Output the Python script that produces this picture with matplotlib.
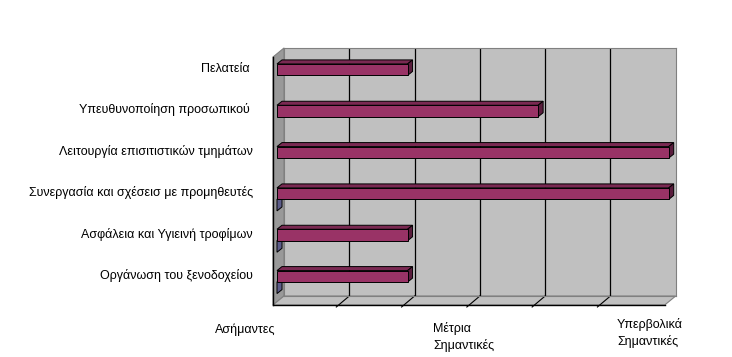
import numpy as np
import matplotlib.pyplot as plt
from matplotlib.patches import Polygon
from matplotlib.transforms import blended_transform_factory

plt.rcParams['font.family'] = ['Liberation Sans', 'DejaVu Sans']

# bottom to top, as Excel draws them
categories = ["Οργάνωση του ξενοδοχείου",
              "Ασφάλεια και Υγιεινή τροφίμων",
              "Συνεργασία και σχέσεισ με προμηθευτές",
              "Λειτουργία επισιτιστικών τμημάτων",
              "Υπευθυνοποίηση προσωπικού ",
              "Πελατεία "]
importance = [2, 2, 6, 6, 4, 2]
other = [0, 0, 0, None, None, None]     # second series, zero where present
scale_labels = ["Ασήμαντες", "Μέτρια\nΣημαντικές", "Υπερβολικά\nΣημαντικές"]
X_MAX = 6

W, H = 732, 357
fig = plt.figure(figsize=(W / 100, H / 100), dpi=100)

# back wall of the fake 3D box, in pixels
L, R, T, B = 284, 675.7, 48, 296
ax = fig.add_axes([L / W, 1 - B / H, (R - L) / W, (B - T) / H])
n = len(categories)
ax.set_xlim(0, X_MAX)
ax.set_ylim(-0.5, n - 0.5)
ax.set_xticks([])
ax.set_yticks([])
ax.set_facecolor("#c0c0c0")
for s in ax.spines.values():
    s.set_color("#808080")
    s.set_linewidth(0.8)

ux = X_MAX / (R - L)      # data units per pixel
uy = n / (B - T)


def shift(x, y, dxp, dyp):
    # dyp is screen pixels downward
    return (x + dxp * ux, y - dyp * uy)


FX, FY = -11, 9           # floor depth (back wall -> front edge)
BX, BY = -7, 1            # bar front plane relative to back wall
DX, DY = 5, -4            # bar depth
h = 11.5 * uy             # bar thickness

ybot, ytop = -0.5, n - 0.5

# side wall and floor
side = [(0, ybot), (0, ytop), shift(0, ytop, FX, FY), shift(0, ybot, FX, FY)]
ax.add_patch(Polygon(side, closed=True, fc="#999999", ec="#808080", lw=0.8,
                     clip_on=False, zorder=1))
floor = [(0, ybot), (X_MAX, ybot), shift(X_MAX, ybot, FX, FY), shift(0, ybot, FX, FY)]
ax.add_patch(Polygon(floor, closed=True, fc="#c0c0c0", ec="#808080", lw=0.8,
                     clip_on=False, zorder=1))

# gridlines on wall and floor
for v in range(1, X_MAX):
    ax.plot([v, v], [ybot, ytop], color="black", lw=0.9, zorder=2)
    p = shift(v, ybot, FX - 2, FY + 2)
    ax.plot([v, p[0]], [ybot, p[1]], color="black", lw=0.8, zorder=2, clip_on=False)

# axis lines
f0 = shift(0, ybot, FX, FY)
f1 = shift(X_MAX, ybot, FX, FY)
ft = shift(0, ytop, FX, FY)
ax.plot([f0[0], f1[0]], [f0[1], f1[1]], color="black", lw=1, clip_on=False, zorder=2)
ax.plot([f0[0], ft[0]], [f0[1], ft[1]], color="black", lw=1, clip_on=False, zorder=2)

bx, by = BX * ux, -BY * uy
dx, dy = DX * ux, -DY * uy
idx = np.arange(n)


def faces(x0, v, yc, top_c, side_c, z):
    top = [(x0, yc + h / 2), (x0 + v, yc + h / 2),
           (x0 + v + dx, yc + h / 2 + dy), (x0 + dx, yc + h / 2 + dy)]
    sd = [(x0 + v, yc - h / 2), (x0 + v + dx, yc - h / 2 + dy),
          (x0 + v + dx, yc + h / 2 + dy), (x0 + v, yc + h / 2)]
    ax.add_patch(Polygon(top, closed=True, fc=top_c, ec="black", lw=0.7,
                         clip_on=False, zorder=z))
    ax.add_patch(Polygon(sd, closed=True, fc=side_c, ec="black", lw=0.7,
                         clip_on=False, zorder=z))


# second series: zero-length bars just below the main ones
for i, v in zip(idx, other):
    if v is None:
        continue
    faces(bx, v, i + by - h, "#7a7aa8", "#5c5c8a", 3)

# main series
for i, v in zip(idx, importance):
    faces(bx, v, i + by, "#7a2952", "#5a1d3d", 4)
ax.barh(idx + by, importance, height=h, left=bx, color="#993366",
        edgecolor="black", linewidth=0.7, zorder=5, clip_on=False)

# category labels
tr = blended_transform_factory(ax.transAxes, ax.transData)
for i, c in zip(idx, categories):
    ax.text((253 - L) / (R - L), i, c, transform=tr, ha="right", va="center",
            fontsize=9)

# scale labels under the box
for (px, py), s in zip([(215, 331), (433, 329), (617, 325)], scale_labels):
    fig.text(px / W, 1 - (py - 7) / H, s, ha="left", va="top", fontsize=9,
             linespacing=1.45)

fig.savefig("out.png", dpi=100)
